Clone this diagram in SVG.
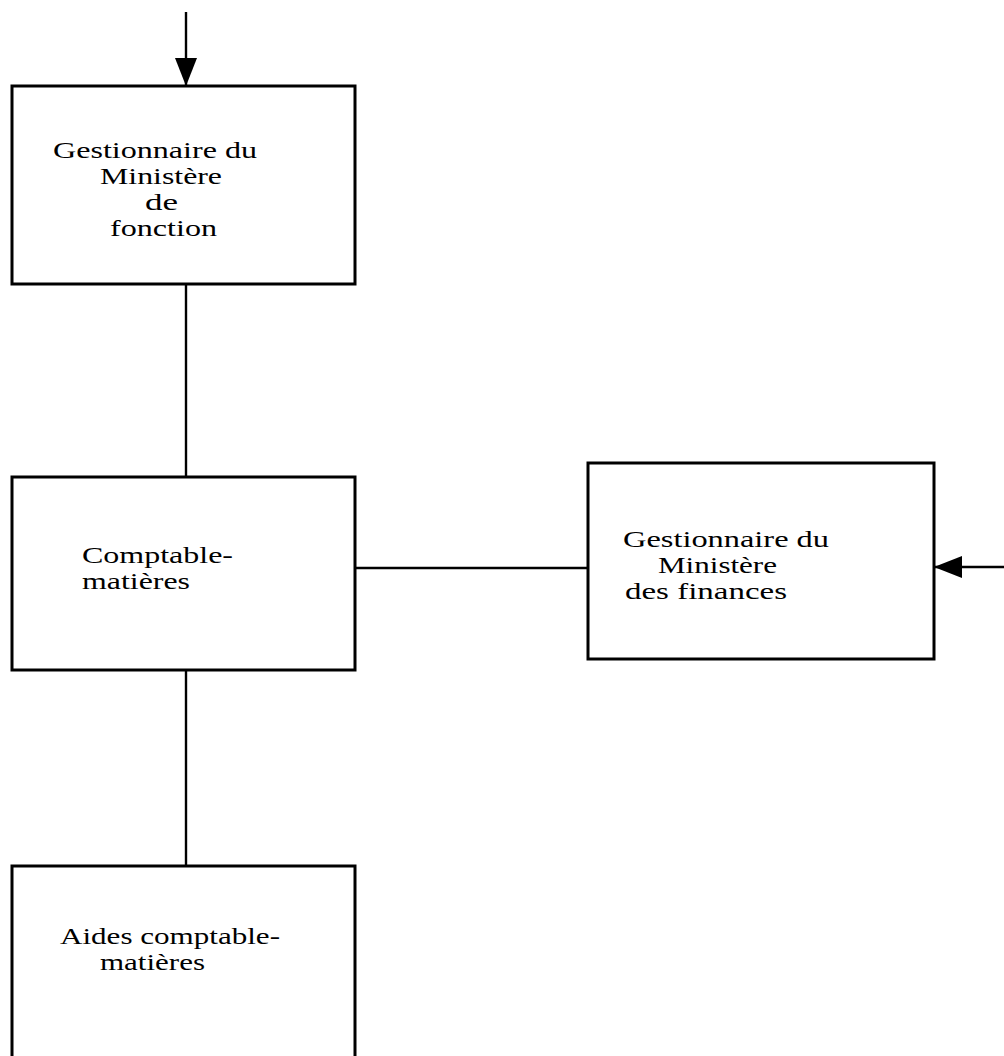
<svg xmlns="http://www.w3.org/2000/svg" width="1004" height="1056" viewBox="0 0 1004 1056">
<style>
.box{fill:#fff;stroke:#000;stroke-width:3}
.ln{fill:none;stroke:#000;stroke-width:2.4}
text{font-family:"Liberation Serif","Times New Roman",serif;font-size:24px;fill:#000}
</style>
<defs>
<marker id="ah" markerWidth="30" markerHeight="24" refX="28" refY="11" orient="auto" markerUnits="userSpaceOnUse">
<path d="M0,0 L28,11 L0,22 Z" fill="#000"/>
</marker>
</defs>
<rect width="1004" height="1056" fill="#fff"/>
<g id="connectors">
<line class="ln" x1="186" y1="12" x2="186" y2="86" marker-end="url(#ah)"/>
<line class="ln" x1="186" y1="284" x2="186" y2="477"/>
<line class="ln" x1="186" y1="670" x2="186" y2="866"/>
<line class="ln" x1="355" y1="568" x2="588" y2="568"/>
<line class="ln" x1="1004" y1="567" x2="934" y2="567" marker-end="url(#ah)"/>
</g>
<g id="node-gestionnaire-fonction">
<rect class="box" x="12" y="86" width="343" height="198"/>
<text x="53" y="158" textLength="204" lengthAdjust="spacingAndGlyphs">Gestionnaire du</text>
<text x="100" y="184" textLength="122" lengthAdjust="spacingAndGlyphs">Ministère</text>
<text x="145" y="210" textLength="33" lengthAdjust="spacingAndGlyphs">de</text>
<text x="110" y="236" textLength="107" lengthAdjust="spacingAndGlyphs">fonction</text>
</g>
<g id="node-comptable">
<rect class="box" x="12" y="477" width="343" height="193"/>
<text x="82" y="563" textLength="151" lengthAdjust="spacingAndGlyphs">Comptable-</text>
<text x="82" y="589" textLength="108" lengthAdjust="spacingAndGlyphs">matières</text>
</g>
<g id="node-gestionnaire-finances">
<rect class="box" x="588" y="463" width="346" height="196"/>
<text x="623" y="547" textLength="206" lengthAdjust="spacingAndGlyphs">Gestionnaire du</text>
<text x="658" y="573" textLength="119" lengthAdjust="spacingAndGlyphs">Ministère</text>
<text x="625" y="599" textLength="162" lengthAdjust="spacingAndGlyphs">des finances</text>
</g>
<g id="node-aides">
<rect class="box" x="12" y="866" width="343" height="200"/>
<text x="60" y="944" textLength="220" lengthAdjust="spacingAndGlyphs">Aides comptable-</text>
<text x="100" y="970" textLength="105" lengthAdjust="spacingAndGlyphs">matières</text>
</g>
</svg>
